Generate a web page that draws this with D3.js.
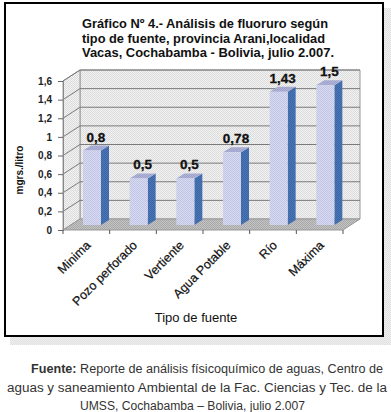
<!DOCTYPE html>
<html><head><meta charset="utf-8">
<script src="https://cdn.jsdelivr.net/npm/d3@7"></script>
<style>
html,body{margin:0;padding:0;background:#fff;}
svg{display:block;font-family:"Liberation Sans",Arial,sans-serif;}
</style></head>
<body>
<svg id="c" width="391" height="412"></svg>
<script>
const categories = ["Minima","Pozo perforado","Vertiente","Agua Potable","Río","Máxima"];
const values = [0.8, 0.5, 0.5, 0.78, 1.43, 1.5];
const valueLabels = ["0,8","0,5","0,5","0,78","1,43","1,5"];
const yTicks = [0,0.2,0.4,0.6,0.8,1,1.2,1.4,1.6];
const titleLines = ["Gráfico Nº 4.- Análisis de fluoruro según","tipo de fuente, provincia Arani,localidad","Vacas, Cochabamba - Bolivia, julio 2.007."];
const yTitle = "mgrs./litro";
const xTitle = "Tipo de fuente";
const footerBold = "Fuente:";
const footerLines = [" Reporte de análisis físicoquímico de aguas, Centro de","aguas y saneamiento  Ambiental de la Fac. Ciencias y Tec. de la","UMSS, Cochabamba – Bolivia, julio 2.007"];

const svg = d3.select("#c");
const defs = svg.append("defs");
function pat(id, c1, c2){
  const p = defs.append("pattern").attr("id",id).attr("width",2).attr("height",2).attr("patternUnits","userSpaceOnUse");
  p.append("rect").attr("width",2).attr("height",2).attr("fill",c1);
  p.append("rect").attr("width",1).attr("height",1).attr("fill",c2);
  p.append("rect").attr("x",1).attr("y",1).attr("width",1).attr("height",1).attr("fill",c2);
}
pat("wall","#f2f2f2","#dcdcdc");
pat("floor","#c4c4c4","#a8a8a8");
pat("face","#d8daf0","#c2c6e6");
pat("side","#4a76b6","#3c66a6");
pat("top","#aeb2d6","#9ea4cc");
pat("shadow","#f0f0f0","#e0e0e0");

// shadow + frame
svg.append("rect").attr("x",10).attr("y",8).attr("width",381).attr("height",337).attr("fill","url(#shadow)");
svg.append("rect").attr("x",5).attr("y",3).attr("width",378).attr("height",333).attr("fill","#fff").attr("stroke","#000").attr("stroke-width",2);

// title
const tLen=[246,243,252];
svg.append("g").selectAll("text").data(titleLines).join("text")
  .attr("x",82).attr("y",(d,i)=>28+i*14.5)
  .attr("font-size",13.5).attr("font-weight","bold").attr("fill","#111")
  .attr("textLength",(d,i)=>tLen[i]).attr("lengthAdjust","spacingAndGlyphs")
  .text(d=>d);

// scales
const x = d3.scaleBand().domain(categories).range([63,343]).padding(0);
const y = d3.scaleLinear().domain([0,1.6]).range([230,81]);
const D = [17,-11];        // full depth offset
const B0 = [7,-5];         // bar front depth offset
const Bd = [8,-5];         // bar depth
const faceOff = 13, faceW = 18;

const x0 = x.range()[0], x1 = x.range()[1];
const g = svg.append("g");
const pts = a => a.map(p=>p.join(",")).join(" ");

// back wall
g.append("polygon").attr("points",pts([[x0+D[0],y(1.6)+D[1]],[x1+D[0],y(1.6)+D[1]],[x1+D[0],y(0)+D[1]],[x0+D[0],y(0)+D[1]]]))
  .attr("fill","url(#wall)").attr("stroke","#999").attr("stroke-width",1);
// side wall
g.append("polygon").attr("points",pts([[x0,y(1.6)],[x0+D[0],y(1.6)+D[1]],[x0+D[0],y(0)+D[1]],[x0,y(0)]]))
  .attr("fill","url(#wall)").attr("stroke","#999").attr("stroke-width",1);
// floor
g.append("polygon").attr("points",pts([[x0,y(0)],[x1,y(0)],[x1+D[0],y(0)+D[1]],[x0+D[0],y(0)+D[1]]]))
  .attr("fill","url(#floor)").attr("stroke","#999").attr("stroke-width",1);
// gridlines
g.append("g").selectAll("polyline").data(yTicks.filter(v=>v>0)).join("polyline")
  .attr("points",v=>pts([[x0,y(v)],[x0+D[0],y(v)+D[1]],[x1+D[0],y(v)+D[1]]]))
  .attr("fill","none").attr("stroke","#7a7a7a").attr("stroke-width",1);

// y axis
const yAxis = d3.axisLeft(y).tickValues(yTicks).tickSize(5).tickPadding(6)
  .tickFormat(d=>String(d).replace(".",","));
const ya = svg.append("g").attr("transform",`translate(${x0},0)`).call(yAxis);
ya.select(".domain").attr("stroke","#888");
ya.selectAll(".tick line").attr("stroke","#666");
ya.selectAll("text").attr("font-size",10).attr("font-weight","bold").attr("fill","#222").attr("font-family","Liberation Sans, Arial, sans-serif");

// x ticks at category boundaries
const bounds = categories.map(c=>x(c)).concat([x1]);
svg.append("g").selectAll("line").data(bounds).join("line")
  .attr("x1",d=>d).attr("x2",d=>d).attr("y1",y(0)).attr("y2",y(0)+4).attr("stroke","#555");

// bars
const bars = svg.append("g").selectAll("g").data(categories).join("g");
bars.each(function(c,i){
  const gg = d3.select(this);
  const fx = x(c)+faceOff+B0[0], fy0 = y(0)+B0[1], fy1 = y(values[i])+B0[1];
  const fx2 = fx+faceW;
  gg.append("polygon").attr("points",pts([[fx2,fy1],[fx2+Bd[0],fy1+Bd[1]],[fx2+Bd[0],fy0+Bd[1]],[fx2,fy0]])).attr("fill","url(#side)");
  gg.append("polygon").attr("points",pts([[fx,fy1],[fx2,fy1],[fx2+Bd[0],fy1+Bd[1]],[fx+Bd[0],fy1+Bd[1]]])).attr("fill","url(#top)");
  gg.append("rect").attr("x",fx).attr("y",fy1).attr("width",faceW).attr("height",fy0-fy1).attr("fill","url(#face)");
  gg.append("text").attr("x",fx+(faceW+Bd[0])/2).attr("y",fy1-9)
    .attr("text-anchor","middle").attr("font-size",13.5).attr("font-weight","bold").attr("fill","#111")
    .attr("stroke","#111").attr("stroke-width",0.3)
    .text(valueLabels[i]);
});

// category labels
svg.append("g").selectAll("text").data(categories).join("text")
  .attr("transform",c=>`translate(${x(c)+x.bandwidth()/2+5},246) rotate(-45)`)
  .attr("text-anchor","end").attr("font-size",12.5).attr("fill","#111")
  .attr("stroke","#111").attr("stroke-width",0.2)
  .text(d=>d);

// axis titles
svg.append("text").attr("x",196).attr("y",322).attr("text-anchor","middle")
  .attr("font-size",13).attr("fill","#111").text(xTitle);
svg.append("text").attr("transform","translate(23,170) rotate(-90)").attr("text-anchor","middle")
  .attr("font-size",10).attr("font-weight","bold").attr("fill","#111").text(yTitle);

// footer
const f1 = svg.append("text").attr("x",31).attr("y",373).attr("font-size",12.5).attr("fill","#333")
  .attr("textLength",352).attr("lengthAdjust","spacingAndGlyphs");
f1.append("tspan").attr("font-weight","bold").text(footerBold);
f1.append("tspan").text(footerLines[0]);
svg.append("text").attr("x",7).attr("y",392).attr("font-size",12.5).attr("fill","#333")
  .attr("textLength",380).attr("lengthAdjust","spacingAndGlyphs").text(footerLines[1]);
svg.append("text").attr("x",80).attr("y",410).attr("font-size",12.5).attr("fill","#333")
  .attr("textLength",225).attr("lengthAdjust","spacingAndGlyphs").text(footerLines[2]);
</script>
</body></html>
